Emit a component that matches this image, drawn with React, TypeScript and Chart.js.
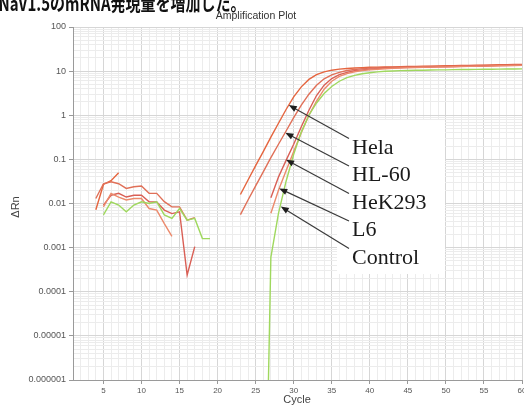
import React, { useEffect, useRef } from "react";
import { Chart, registerables } from "chart.js";

Chart.register(...registerables);

// ---- data (ΔRn per cycle) ----
const cycleMin = 1;
const cycleMax = 60;
const xTickLabels = [5, 10, 15, 20, 25, 30, 35, 40, 45, 50, 55, 60];
const yTickLabels = ["0.000001", "0.00001", "0.0001", "0.001", "0.01", "0.1", "1", "10", "100"];

const seriesNames = ["Hela", "HL-60", "HeK293", "L6", "Control"];
const seriesColors = ["#e5653f", "#e07058", "#d95f55", "#ec8a6c", "#9fd85e"];

const helaEarlyStart = 4;
const helaEarly = [0.0072, 0.027, 0.033, 0.05];
const helaLateStart = 23;
const helaLate = [
  0.016, 0.034, 0.072, 0.15, 0.32, 0.66, 1.35, 2.6, 4.4, 6.5, 8.3, 9.6, 10.5, 11.1, 11.5, 11.8,
  12.0, 12.2, 12.3, 12.4, 12.5, 12.6, 12.7, 12.8, 12.9, 13.0, 13.1, 13.2, 13.3, 13.4, 13.5, 13.6,
  13.7, 13.8, 13.9, 14.0, 14.1, 14.2,
];

const hl60EarlyStart = 4;
const hl60Early = [0.013, 0.028, 0.031, 0.028, 0.022, 0.024, 0.025, 0.017, 0.017, 0.011, 0.0084, 0.0084, 0.0042, 0.0048];
const hl60LateStart = 23;
const hl60Late = [
  0.0056, 0.012, 0.025, 0.052, 0.11, 0.22, 0.44, 0.88, 1.7, 3.0, 4.8, 6.7, 8.2, 9.4, 10.3, 10.9,
  11.4, 11.7, 11.9, 12.1, 12.2, 12.3, 12.4, 12.5, 12.6, 12.7, 12.8, 12.9, 13.0, 13.1, 13.2, 13.3,
  13.4, 13.5, 13.6, 13.7, 13.8, 13.9,
];

const hek293EarlyStart = 5;
const hek293Early = [0.0092, 0.0154, 0.017, 0.014, 0.0154, 0.0154, 0.0109, 0.0109, 0.0071, 0.0059, 0.0065, 0.00024, 0.00105];
const hek293LateStart = 27;
const hek293Late = [
  0.0135, 0.04, 0.095, 0.22, 0.55, 1.3, 2.8, 4.8, 6.8, 8.3, 9.4, 10.2, 10.7, 11.1, 11.4, 11.7,
  11.9, 12.0, 12.1, 12.2, 12.3, 12.4, 12.5, 12.6, 12.7, 12.8, 12.9, 13.0, 13.1, 13.2, 13.3, 13.4,
  13.5, 13.6,
];

const l6EarlyStart = 5;
const l6Early = [0.0084, 0.017, 0.014, 0.012, 0.013, 0.013, 0.0077, 0.0071, 0.0035, 0.0018];
const l6LateStart = 27;
const l6Late = [
  0.006, 0.02, 0.055, 0.15, 0.4, 1.0, 2.1, 3.9, 5.9, 7.6, 8.8, 9.7, 10.3, 10.7, 11.0, 11.3,
  11.6, 11.8, 12.0, 12.1, 12.2, 12.3, 12.4, 12.5, 12.6, 12.7, 12.8, 12.9, 13.0, 13.1, 13.2, 13.3,
  13.4, 13.5,
];

const controlEarlyStart = 5;
const controlEarly = [0.0055, 0.0109, 0.0092, 0.0065, 0.0092, 0.0109, 0.01, 0.0109, 0.0055, 0.0046, 0.0077, 0.0042, 0.0046, 0.0016, 0.0016];
const controlLateStart = 26;
const controlLate = [
  1e-12, 0.0006, 0.006, 0.032, 0.13, 0.42, 1.0, 1.9, 3.1, 4.5, 5.9, 7.1, 8.0, 8.7, 9.2, 9.6,
  9.9, 10.1, 10.25, 10.35, 10.45, 10.5, 10.6, 10.65, 10.7, 10.8, 10.85, 10.9, 10.95, 11.0, 11.05, 11.1,
  11.15, 11.2, 11.25,
];

// arrow targets for the callout labels, in (cycle, ΔRn)
const arrowTipCycle = [29.35, 28.9, 29.0, 28.1, 28.3];
const arrowTipValue = [1.7, 0.4, 0.098, 0.022, 0.0085];

const headingText = "NaV1.5のmRNA発現量を増加した。";
const plotTitle = "Amplification Plot";
const xTitle = "Cycle";
const yTitle = "ΔRn";

const segments: { series: number; start: number; values: number[] }[] = [
  { series: 4, start: controlEarlyStart, values: controlEarly },
  { series: 4, start: controlLateStart, values: controlLate },
  { series: 3, start: l6EarlyStart, values: l6Early },
  { series: 3, start: l6LateStart, values: l6Late },
  { series: 2, start: hek293EarlyStart, values: hek293Early },
  { series: 2, start: hek293LateStart, values: hek293Late },
  { series: 1, start: hl60EarlyStart, values: hl60Early },
  { series: 1, start: hl60LateStart, values: hl60Late },
  { series: 0, start: helaEarlyStart, values: helaEarly },
  { series: 0, start: helaLateStart, values: helaLate },
];

const isDecade = (v: number) => Math.abs(Math.log10(v) - Math.round(Math.log10(v))) < 1e-9;

const overlayPlugin = {
  id: "overlay",
  beforeDatasetsDraw(chart: any) {
    const ctx = chart.ctx;
    ctx.save();
    ctx.fillStyle = "#ffffff";
    ctx.fillRect(337, 120, 108, 154);
    ctx.restore();
  },
  afterDatasetsDraw(chart: any) {
    const ctx = chart.ctx;
    const xs = chart.scales.x;
    const ys = chart.scales.y;
    ctx.save();
    seriesNames.forEach((name, i) => {
      const baseline = 153.5 + i * 27.5;
      const tx = xs.getPixelForValue(arrowTipCycle[i]);
      const ty = ys.getPixelForValue(arrowTipValue[i]);
      const sx = 349;
      const sy = baseline - 15;
      const ang = Math.atan2(ty - sy, tx - sx);
      const head = 8;
      const half = 3.2;
      ctx.strokeStyle = "#3a3a3a";
      ctx.fillStyle = "#1e1e1e";
      ctx.lineWidth = 1.2;
      ctx.beginPath();
      ctx.moveTo(sx, sy);
      ctx.lineTo(tx - Math.cos(ang) * head * 0.8, ty - Math.sin(ang) * head * 0.8);
      ctx.stroke();
      ctx.beginPath();
      ctx.moveTo(tx, ty);
      ctx.lineTo(
        tx - Math.cos(ang) * head + Math.sin(ang) * half,
        ty - Math.sin(ang) * head - Math.cos(ang) * half
      );
      ctx.lineTo(
        tx - Math.cos(ang) * head - Math.sin(ang) * half,
        ty - Math.sin(ang) * head + Math.cos(ang) * half
      );
      ctx.closePath();
      ctx.fill();

      ctx.font = '22px "Liberation Serif", "DejaVu Serif", serif';
      ctx.fillStyle = "#1a1a1a";
      ctx.textAlign = "left";
      ctx.textBaseline = "alphabetic";
      ctx.fillText(name, 352, baseline);
    });
    ctx.restore();
  },
  afterDraw(chart: any) {
    const ctx = chart.ctx;
    ctx.save();
    // heading, set in a condensed bold face
    ctx.save();
    ctx.fillStyle = "#111111";
    ctx.font = 'bold 20px "Noto Sans CJK JP", sans-serif';
    ctx.textAlign = "left";
    ctx.textBaseline = "alphabetic";
    ctx.scale(0.75, 1);
    ctx.fillText(headingText, -2, 11);
    ctx.restore();

    ctx.fillStyle = "#333333";
    ctx.font = '10.5px "Liberation Sans", Arial, sans-serif';
    ctx.textAlign = "center";
    ctx.textBaseline = "middle";
    ctx.fillText(plotTitle, 256, 16);

    ctx.font = '11px "Liberation Sans", Arial, sans-serif';
    ctx.fillStyle = "#444444";
    ctx.fillText(xTitle, 297, 400);

    ctx.translate(16, 207);
    ctx.rotate(-Math.PI / 2);
    ctx.fillText(yTitle, 0, 0);
    ctx.restore();
  },
};

export default function App() {
  const canvasRef = useRef<HTMLCanvasElement>(null);

  useEffect(() => {
    const canvas = canvasRef.current;
    if (!canvas) return;

    const datasets = segments.map((seg) => ({
      label: seriesNames[seg.series],
      data: seg.values.map((v, k) => ({ x: seg.start + k, y: v })),
      borderColor: seriesColors[seg.series],
      backgroundColor: seriesColors[seg.series],
      borderWidth: 1.4,
      pointRadius: 0,
      tension: 0,
      fill: false,
    }));

    const xTickValues: number[] = [];
    for (let c = cycleMin; c <= cycleMax; c++) xTickValues.push(c);

    const yTickValues: { value: number; major: boolean }[] = [];
    for (let e = -6; e <= 2; e++) {
      const base = Math.pow(10, e);
      if (e === 2) {
        yTickValues.push({ value: base, major: true });
        break;
      }
      for (let m = 1; m <= 9; m++) {
        yTickValues.push({ value: Number((m * base).toPrecision(6)), major: m === 1 });
      }
    }

    const chart = new Chart(canvas, {
      type: "line",
      data: { datasets },
      plugins: [overlayPlugin],
      options: {
        responsive: false,
        animation: false,
        layout: { padding: { top: 27, right: 2, left: 0, bottom: 0 } },
        plugins: {
          legend: { display: false },
          tooltip: { enabled: false },
          title: { display: false },
        },
        scales: {
          x: {
            type: "linear",
            min: cycleMin,
            max: cycleMax,
            afterBuildTicks: (scale: any) => {
              scale.ticks = xTickValues.map((v) => ({ value: v, major: xTickLabels.includes(v) }));
            },
            afterFit: (scale: any) => {
              scale.height = 30;
              scale.paddingLeft = 0;
              scale.paddingRight = 0;
            },
            ticks: {
              autoSkip: false,
              maxRotation: 0,
              padding: 2,
              color: "#555555",
              font: { size: 8, family: '"Liberation Sans", Arial, sans-serif' },
              callback: (v: any) => (xTickLabels.includes(Number(v)) ? String(v) : ""),
            },
            grid: {
              color: (c: any) => (c.tick && c.tick.major ? "#d6d6d6" : "#ececec"),
              tickColor: (c: any) => (c.tick && c.tick.major ? "#999999" : "rgba(0,0,0,0)"),
              tickLength: 4,
              lineWidth: 1,
            },
            border: { color: "#9a9a9a", width: 1 },
          },
          y: {
            type: "logarithmic",
            min: 1e-6,
            max: 100,
            afterBuildTicks: (scale: any) => {
              scale.ticks = yTickValues.map((t) => ({ value: t.value, major: t.major }));
            },
            afterFit: (scale: any) => {
              scale.width = 73;
              scale.paddingTop = 0;
              scale.paddingBottom = 0;
            },
            ticks: {
              autoSkip: false,
              padding: 3,
              color: "#555555",
              font: { size: 9, family: '"Liberation Sans", Arial, sans-serif' },
              callback: (v: any) => {
                const n = Number(v);
                if (!isDecade(n)) return "";
                return yTickLabels[Math.round(Math.log10(n)) + 6];
              },
            },
            grid: {
              color: (c: any) => (c.tick && c.tick.major ? "#d6d6d6" : "#ececec"),
              tickColor: (c: any) => (c.tick && c.tick.major ? "#999999" : "rgba(0,0,0,0)"),
              tickLength: 4,
              lineWidth: 1,
            },
            border: { color: "#9a9a9a", width: 1 },
          },
        },
      },
    } as any);

    return () => chart.destroy();
  }, []);

  return (
    <div style={{ position: "fixed", left: 0, top: 0, width: 524, height: 410, background: "#ffffff" }}>
      <canvas ref={canvasRef} width={524} height={410} style={{ display: "block", width: 524, height: 410 }} />
    </div>
  );
}
